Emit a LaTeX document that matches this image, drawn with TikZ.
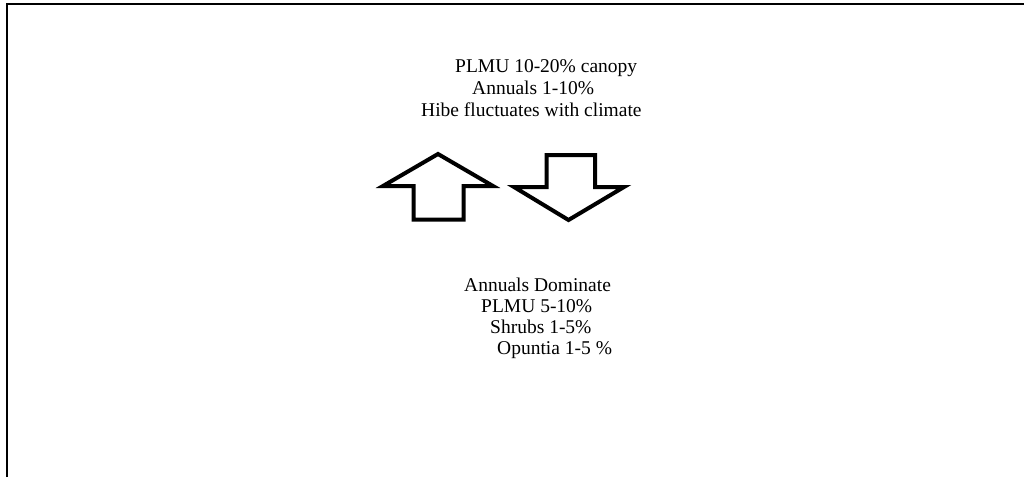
\documentclass[tikz,border=0pt]{standalone}
\usepackage{fontspec}
\setmainfont{Liberation Serif}
\begin{document}
\begin{tikzpicture}[x=1pt,y=-1pt,
  lbl/.style={anchor=base west,inner sep=0pt,font=\fontsize{19.5}{22}\selectfont},
  bigarrow/.style={draw=black,line width=4pt,miter limit=10,line join=miter,fill=white},
  frameline/.style={draw=black,line width=1.5pt}]
\useasboundingbox (0,0) rectangle (1024,477);
\draw[frameline] (7,477) -- (7,4) -- (1024,4);
% text blocks
\node[lbl] (t1) at (455,72) {PLMU 10-20\% canopy};
\node[lbl] (t2) at (472,94) {Annuals 1-10\%};
\node[lbl] (t3) at (421,116) {Hibe fluctuates with climate};
\node[lbl] (b1) at (464,291) {Annuals Dominate};
\node[lbl] (b2) at (481,312) {PLMU 5-10\%};
\node[lbl] (b3) at (490,333) {Shrubs 1-5\%};
\node[lbl] (b4) at (497,354) {Opuntia 1-5 \%};
% up arrow
\draw[bigarrow] (438,154) -- (383,186) -- (413.5,186) -- (413.5,219.5) -- (463.5,219.5) -- (463.5,186) -- (493,186) -- cycle;
% down arrow
\draw[bigarrow] (546.5,155) -- (595,155) -- (595,187) -- (624,187) -- (568.5,220) -- (514,187) -- (546.5,187) -- cycle;
\end{tikzpicture}
\end{document}
